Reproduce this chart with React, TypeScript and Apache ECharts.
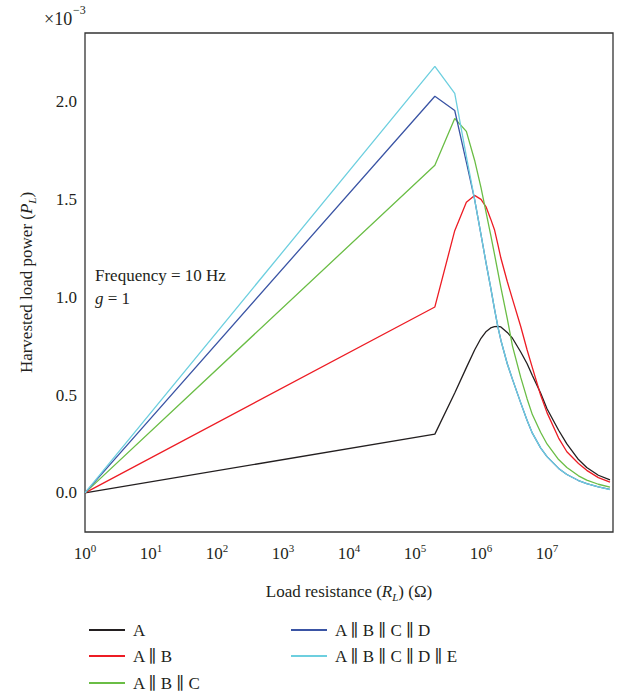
import React, { useEffect, useRef } from 'react';
import * as echarts from 'echarts';

// Load resistance values (Ω)
const resistance = [1, 2e5, 4e5, 6e5, 8e5, 1e6, 1.2e6, 1.4e6, 1.6e6, 1.8e6, 2e6, 2.5e6, 3e6, 4e6, 5e6, 6e6, 8e6, 1e7, 1.5e7, 2e7, 3e7, 4e7, 6e7, 9e7];

// Harvested load power in units of 1e-3
const powerA = [0, 0.30, 0.51, 0.64, 0.73, 0.79, 0.825, 0.843, 0.85, 0.851, 0.848, 0.82, 0.79, 0.72, 0.66, 0.60, 0.51, 0.43, 0.32, 0.25, 0.17, 0.13, 0.09, 0.066];
const powerAB = [0, 0.95, 1.34, 1.485, 1.52, 1.50, 1.46, 1.40, 1.345, 1.27, 1.20, 1.08, 0.99, 0.85, 0.73, 0.64, 0.50, 0.41, 0.28, 0.21, 0.15, 0.115, 0.078, 0.055];
const powerABC = [0, 1.674, 1.913, 1.847, 1.70, 1.56, 1.43, 1.32, 1.22, 1.13, 1.05, 0.89, 0.75, 0.59, 0.48, 0.40, 0.31, 0.25, 0.17, 0.13, 0.087, 0.065, 0.044, 0.029];
const powerABCD = [0, 2.027, 1.954, 1.69, 1.50, 1.32, 1.17, 1.05, 0.94, 0.85, 0.78, 0.66, 0.58, 0.46, 0.37, 0.305, 0.23, 0.185, 0.125, 0.094, 0.063, 0.047, 0.031, 0.018];
const powerABCDE = [0, 2.179, 2.041, 1.72, 1.50, 1.32, 1.17, 1.05, 0.94, 0.85, 0.78, 0.66, 0.58, 0.46, 0.37, 0.305, 0.23, 0.185, 0.125, 0.094, 0.063, 0.047, 0.031, 0.016];

const seriesNames = ['A', 'A ∥ B', 'A ∥ B ∥ C', 'A ∥ B ∥ C ∥ D', 'A ∥ B ∥ C ∥ D ∥ E'];
const seriesColors = ['#231f20', '#ed1c24', '#6abd45', '#3a54a4', '#6dcfdf'];
const seriesValues = [powerA, powerAB, powerABC, powerABCD, powerABCDE];

const xMaxExponent = 7;
const yTicks = [0, 0.5, 1.0, 1.5, 2.0];

const FONT = '"Liberation Serif", "DejaVu Serif", serif';
const INK = '#231f20';

// legend slot for each series: [left, top]
const legendSlots = [
  [84, 616],
  [84, 642],
  [84, 669],
  [286, 616],
  [286, 642],
];

export default function App() {
  const ref = useRef<HTMLDivElement>(null);
  useEffect(() => {
    const chart = echarts.init(ref.current!, null, { renderer: 'svg' });
    const series = seriesNames.map((name, i) => ({
      name,
      type: 'line',
      data: resistance.map((r, j) => [r, seriesValues[i][j]]),
      symbol: 'none',
      showSymbol: false,
      lineStyle: { color: seriesColors[i], width: 1.3 },
      itemStyle: { color: seriesColors[i] },
    }));
    const legends = seriesNames.map((name, i) => ({
      data: [name],
      orient: 'horizontal',
      left: legendSlots[i][0],
      top: legendSlots[i][1],
      icon: 'rect',
      itemWidth: 36,
      itemHeight: 2,
      itemGap: 0,
      selectedMode: false,
      textStyle: { fontSize: 17, fontFamily: FONT, color: INK, lineHeight: 18, padding: [0, 0, 0, 3] },
    }));
    chart.setOption({
      animation: false,
      backgroundColor: '#fff',
      textStyle: { fontFamily: FONT, color: INK },
      grid: {
        left: 85,
        top: 33,
        right: 6,
        bottom: 164,
        show: true,
        borderColor: '#333',
        borderWidth: 1.3,
        backgroundColor: 'transparent',
      },
      xAxis: {
        type: 'log',
        logBase: 10,
        min: 1,
        max: 1e8,
        axisLine: { show: false },
        axisTick: { show: false },
        splitLine: { show: false },
        axisLabel: {
          margin: 10,
          color: INK,
          fontFamily: FONT,
          formatter: (v: number) => {
            const e = Math.round(Math.log10(v));
            if (e > xMaxExponent) return '';
            return `{b|10}{s|${e}}`;
          },
          rich: {
            b: { fontSize: 17, lineHeight: 22, fontFamily: FONT, color: INK },
            s: { fontSize: 11, lineHeight: 11, verticalAlign: 'top', fontFamily: FONT, color: INK },
          },
        },
        name: 'Load resistance ({i|R}{sub|L}) (Ω)',
        nameLocation: 'middle',
        nameGap: 48,
        nameTextStyle: {
          fontSize: 17,
          fontFamily: FONT,
          color: INK,
          rich: {
            i: { fontSize: 17, fontStyle: 'italic', fontFamily: FONT, color: INK, lineHeight: 22 },
            sub: { fontSize: 11, fontStyle: 'italic', fontFamily: FONT, color: INK, verticalAlign: 'bottom', lineHeight: 11 },
          },
        },
      },
      yAxis: {
        type: 'value',
        min: -0.2,
        max: 2.35,
        axisLine: { show: false },
        axisTick: { show: false },
        splitLine: { show: false },
        axisLabel: {
          customValues: yTicks,
          margin: 8,
          fontSize: 17,
          color: INK,
          fontFamily: FONT,
          formatter: (v: number) => v.toFixed(1),
        },
        name: 'Harvested load power ({i|P}{sub|L})',
        nameLocation: 'middle',
        nameRotate: 90,
        nameGap: 48,
        nameTextStyle: {
          fontSize: 17,
          fontFamily: FONT,
          color: INK,
          rich: {
            i: { fontSize: 17, fontStyle: 'italic', fontFamily: FONT, color: INK, lineHeight: 22 },
            sub: { fontSize: 11, fontStyle: 'italic', fontFamily: FONT, color: INK, verticalAlign: 'bottom', lineHeight: 11 },
          },
        },
      },
      legend: legends,
      graphic: [
        {
          type: 'text',
          left: 44,
          top: 10,
          style: { text: '×10', fontSize: 18, fontFamily: FONT, fill: INK },
        },
        {
          type: 'text',
          left: 73,
          top: 4,
          style: { text: '−3', fontSize: 12, fontFamily: FONT, fill: INK },
        },
        {
          type: 'text',
          left: 95,
          top: 267,
          style: { text: 'Frequency = 10 Hz', fontSize: 17, fontFamily: FONT, fill: INK },
        },
        {
          type: 'text',
          left: 95,
          top: 290,
          style: {
            text: '{i|g} = 1',
            fontSize: 17,
            fontFamily: FONT,
            fill: INK,
            rich: { i: { fontSize: 17, fontStyle: 'italic', fontFamily: FONT, color: INK } },
          },
        },
      ],
      series,
    });
    return () => chart.dispose();
  }, []);
  return (
    <div
      ref={ref}
      style={{ position: 'fixed', left: 0, top: 0, width: 619, height: 696, background: '#fff' }}
    />
  );
}
